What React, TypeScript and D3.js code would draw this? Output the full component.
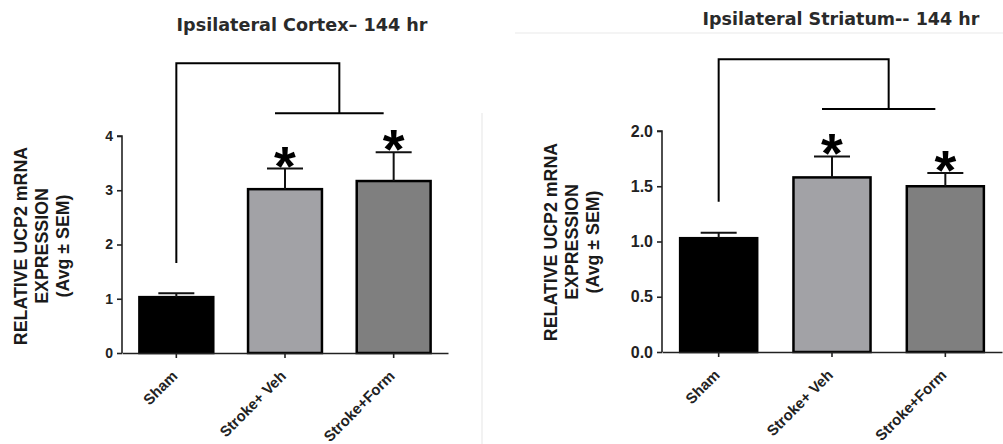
import React, { useEffect, useRef } from 'react';
import * as d3 from 'd3';

// values (relative UCP2 mRNA, mean and SEM)
const categories = ['Sham', 'Stroke+ Veh', 'Stroke+Form'];
const barColors = ['#000000', '#a2a2a6', '#7f7f7f'];

const cortexMeans = [1.03, 3.02, 3.17];
const cortexSem = [0.07, 0.38, 0.53];
const cortexTicks = [0, 1, 2, 3, 4];
const cortexStars = [false, true, true];
// bracket: top level, lower level, bottom of the sham leg
const cortexBracket = [5.34, 4.42, 1.66];

const striatumMeans = [1.03, 1.58, 1.5];
const striatumSem = [0.05, 0.19, 0.12];
const striatumTicks = [0, 0.5, 1.0, 1.5, 2.0];
const striatumStars = [false, true, true];
const striatumBracket = [2.65, 2.2, 1.36];

const W = 1003;
const H = 444;
const FONT = "'Liberation Sans', Arial, sans-serif";

const drawPanel = (svg, opt) => {
    const g = svg.append('g');

    const x = d3.scaleBand()
        .domain(categories)
        .range(opt.xRange)
        .paddingInner(0.32)
        .paddingOuter(0.16);

    const y = d3.scaleLinear()
        .domain(opt.yDomain)
        .range(opt.yRange);

    const rows = categories.map((c, i) => ({
        cat: c, mean: opt.means[i], sem: opt.sem[i], star: opt.stars[i], color: barColors[i],
    }));

    // title
    g.append('text')
        .attr('x', opt.titleX)
        .attr('y', opt.titleY)
        .attr('text-anchor', 'middle')
        .attr('font-family', "'DejaVu Sans', sans-serif")
        .attr('font-weight', 'bold')
        .attr('font-size', opt.titleSize)
        .attr('fill', '#2a2a2a')
        .text(opt.title);

    // y axis label, three lines
    const lbl = g.append('text')
        .attr('transform', `translate(${opt.labelX},${opt.labelY}) rotate(-90)`)
        .attr('text-anchor', 'middle')
        .attr('font-family', FONT)
        .attr('font-weight', 'bold')
        .attr('font-size', 17.8)
        .attr('fill', '#1a1a1a');
    ['RELATIVE UCP2 mRNA', 'EXPRESSION', '(Avg \u00B1 SEM)'].forEach((t, i) => {
        lbl.append('tspan').attr('x', 0).attr('dy', i === 0 ? 0 : 21).text(t);
    });

    // bars
    g.selectAll('.bar')
        .data(rows)
        .join('rect')
        .attr('x', d => x(d.cat))
        .attr('y', d => y(d.mean))
        .attr('width', x.bandwidth())
        .attr('height', d => y(0) - y(d.mean))
        .attr('fill', d => d.color)
        .attr('stroke', '#000')
        .attr('stroke-width', 2.5);

    // error bars (upper only)
    const cx = d => x(d.cat) + x.bandwidth() / 2;
    g.selectAll('.err')
        .data(rows)
        .join('line')
        .attr('x1', cx).attr('x2', cx)
        .attr('y1', d => y(d.mean))
        .attr('y2', d => y(d.mean + d.sem))
        .attr('stroke', '#111')
        .attr('stroke-width', 2);
    g.selectAll('.cap')
        .data(rows)
        .join('line')
        .attr('x1', d => cx(d) - 18).attr('x2', d => cx(d) + 18)
        .attr('y1', d => y(d.mean + d.sem))
        .attr('y2', d => y(d.mean + d.sem))
        .attr('stroke', '#111')
        .attr('stroke-width', 2);

    // asterisks
    g.selectAll('.star')
        .data(rows.filter(d => d.star))
        .join('text')
        .attr('x', cx)
        .attr('y', d => y(d.mean + d.sem) + 16)
        .attr('text-anchor', 'middle')
        .attr('font-family', FONT)
        .attr('font-weight', 'bold')
        .attr('font-size', 56)
        .attr('fill', '#000')
        .text('*');

    // significance bracket
    const [top, low, shamEnd] = opt.bracket;
    const c0 = cx(rows[0]);
    const midX = (cx(rows[1]) + cx(rows[2])) / 2;
    const br = d3.path();
    br.moveTo(c0, y(shamEnd));
    br.lineTo(c0, y(top));
    br.lineTo(midX, y(top));
    br.lineTo(midX, y(low));
    br.moveTo(cx(rows[1]) - 10, y(low));
    br.lineTo(cx(rows[2]) - 10, y(low));
    g.append('path')
        .attr('d', br.toString())
        .attr('fill', 'none')
        .attr('stroke', '#000')
        .attr('stroke-width', 2);

    // axes
    const yAxis = d3.axisLeft(y)
        .tickValues(opt.ticks)
        .tickSize(5)
        .tickPadding(4)
        .tickFormat(opt.fmt);
    const ya = g.append('g')
        .attr('transform', `translate(${opt.xRange[0]},0)`)
        .call(yAxis);
    ya.select('.domain').attr('stroke', '#222').attr('stroke-width', 1.6).attr('d', `M-5,${y(opt.yDomain[1])}H0V${y(0)}`);
    ya.selectAll('.tick line').attr('stroke', '#222').attr('stroke-width', 1.6);
    ya.selectAll('.tick text')
        .attr('font-family', FONT)
        .attr('font-weight', 'bold')
        .attr('font-size', opt.tickSize)
        .attr('fill', '#222');

    const xAxis = d3.axisBottom(x).tickSize(5).tickSizeOuter(0);
    const xa = g.append('g')
        .attr('transform', `translate(0,${y(0)})`)
        .call(xAxis);
    xa.select('.domain').attr('stroke', '#222').attr('stroke-width', 1.6);
    xa.selectAll('.tick line').attr('stroke', '#222').attr('stroke-width', 1.6);
    xa.selectAll('.tick text')
        .attr('font-family', FONT)
        .attr('font-weight', 'bold')
        .attr('font-size', 15)
        .attr('fill', '#222')
        .attr('text-anchor', 'end')
        .attr('dy', null)
        .attr('y', 0)
        .attr('transform', 'translate(2,24) rotate(-45)');
};

const App = () => {
    const svgRef = useRef(null);
    useEffect(() => {
        const svg = d3.select(svgRef.current);
        svg.selectAll('*').remove();

        svg.append('rect').attr('width', W).attr('height', H).attr('fill', '#fff');

        // faint panel edges from the scanned figure
        svg.append('line')
            .attr('x1', 482).attr('x2', 482).attr('y1', 113).attr('y2', H)
            .attr('stroke', '#eeeeee').attr('stroke-width', 1.5);
        svg.append('line')
            .attr('x1', 515).attr('x2', W).attr('y1', 33).attr('y2', 33)
            .attr('stroke', '#f0f0f0').attr('stroke-width', 1.5);

        drawPanel(svg, {
            title: 'Ipsilateral Cortex\u2013 144 hr',
            titleX: 302, titleY: 31, titleSize: 17.6,
            labelX: 27, labelY: 246,
            xRange: [122, 448],
            yDomain: [0, 4],
            yRange: [353, 136],
            ticks: cortexTicks,
            tickSize: 14,
            fmt: d3.format('d'),
            means: cortexMeans, sem: cortexSem, stars: cortexStars,
            bracket: cortexBracket,
        });

        drawPanel(svg, {
            title: 'Ipsilateral Striatum-- 144 hr',
            titleX: 841, titleY: 25, titleSize: 17.5,
            labelX: 557, labelY: 242,
            xRange: [662, 1002],
            yDomain: [0, 2],
            yRange: [352, 131],
            ticks: striatumTicks,
            tickSize: 16,
            fmt: d3.format('.1f'),
            means: striatumMeans, sem: striatumSem, stars: striatumStars,
            bracket: striatumBracket,
        });
    }, []);

    return (
        <svg
            ref={svgRef}
            width={W}
            height={H}
            style={{ position: 'absolute', left: 0, top: 0, display: 'block' }}
        />
    );
};

export default App;
